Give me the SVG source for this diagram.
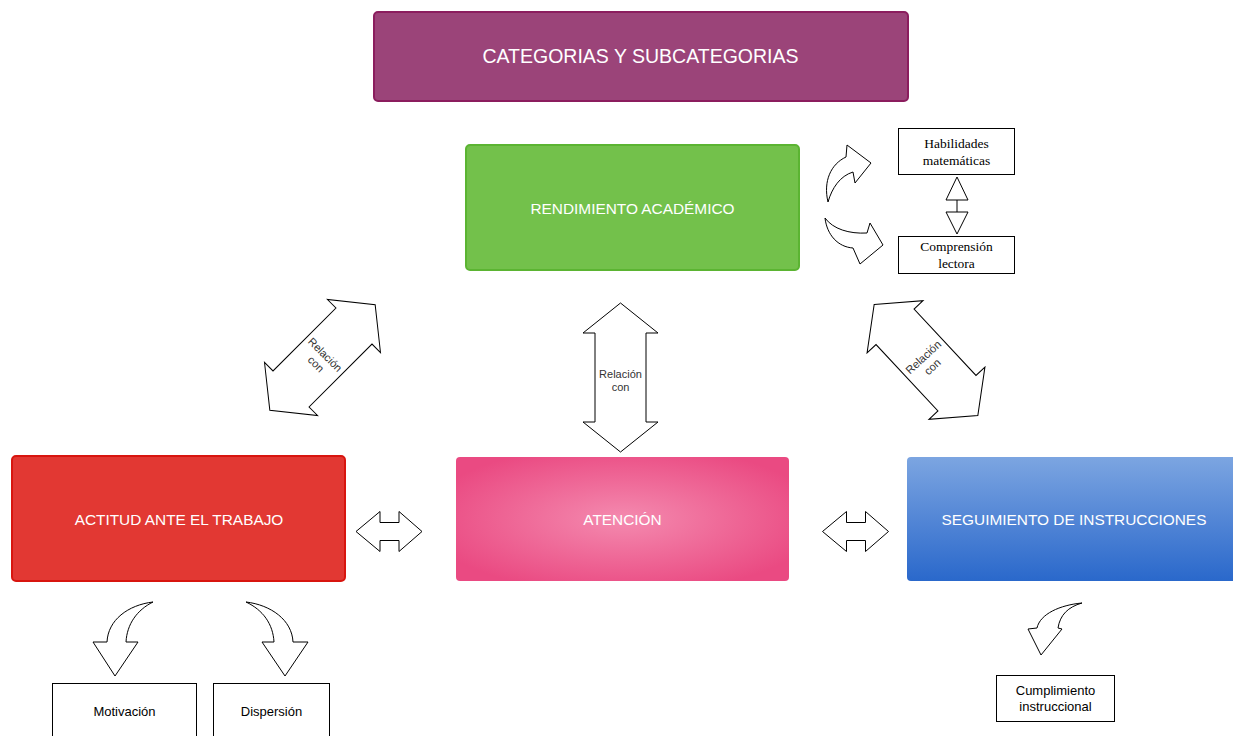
<svg xmlns="http://www.w3.org/2000/svg" width="1233" height="736" viewBox="0 0 1233 736">
<defs>
<radialGradient id="pinkG" cx="0.5" cy="0.5" r="0.6">
<stop offset="0" stop-color="#f48aaf"/>
<stop offset="1" stop-color="#ea4a82"/>
</radialGradient>
<linearGradient id="blueG" x1="0" y1="0" x2="0" y2="1">
<stop offset="0" stop-color="#7ca5e1"/>
<stop offset="1" stop-color="#2a68cb"/>
</linearGradient>
<path id="dbl" d="M0,-74.5 L37.5,-44.5 L25.5,-44.5 L25.5,44.5 L37.5,44.5 L0,74.5 L-37.5,44.5 L-25.5,44.5 L-25.5,-44.5 L-37.5,-44.5 Z"/>
<path id="hdbl" d="M-33,0 L-9,-20 L-9,-9 L10,-9 L10,-20 L33,0 L10,20 L10,9 L-9,9 L-9,20 Z"/>
</defs>
<style>
.big{font-family:"Liberation Sans",Arial,sans-serif;fill:#ffffff;text-anchor:middle}
.sub{font-family:"Liberation Sans",Arial,sans-serif;font-size:13px;fill:#000;text-anchor:middle}
.ser{font-family:"Liberation Serif","Times New Roman",serif;font-size:13.5px;fill:#000;text-anchor:middle}
.lbl{font-family:"Liberation Sans",Arial,sans-serif;font-size:11px;fill:#333;text-anchor:middle}
.box{fill:#fff;stroke:#000;stroke-width:1}
.arr{fill:#fff;stroke:#000;stroke-width:1;stroke-linejoin:miter}
</style>

<g id="title">
<rect x="374" y="12" width="534" height="89" rx="4" fill="#9b4479" stroke="#8b1d5e" stroke-width="2"/>
<text class="big" x="640.5" y="63" font-size="19.5">CATEGORIAS Y SUBCATEGORIAS</text>
</g>

<g id="rendimiento">
<rect x="466" y="145" width="333" height="125" rx="4" fill="#73c14b" stroke="#5bb432" stroke-width="2"/>
<text class="big" x="632.5" y="213.5" font-size="15.4">RENDIMIENTO ACADÉMICO</text>
</g>

<g id="actitud">
<rect x="12" y="456" width="333" height="125" rx="4" fill="#e23833" stroke="#d8150f" stroke-width="2"/>
<text class="big" x="179" y="524.5" font-size="15.4">ACTITUD ANTE EL TRABAJO</text>
</g>

<g id="atencion">
<rect x="456" y="457" width="333" height="124" rx="4" fill="url(#pinkG)"/>
<text class="big" x="622.5" y="524.5" font-size="15.4">ATENCIÓN</text>
</g>

<g id="seguimiento">
<rect x="907" y="457" width="340" height="124" rx="4" fill="url(#blueG)"/>
<text class="big" x="1074" y="524.5" font-size="15.4">SEGUIMIENTO DE INSTRUCCIONES</text>
</g>

<g id="habilidades">
<rect class="box" x="898.5" y="128.5" width="116" height="46"/>
<text class="ser" x="956.5" y="148">Habilidades</text>
<text class="ser" x="956.5" y="165">matemáticas</text>
</g>

<g id="comprension">
<rect class="box" x="898.5" y="236.5" width="116" height="37"/>
<text class="ser" x="956.5" y="251">Comprensión</text>
<text class="ser" x="956.5" y="268">lectora</text>
</g>

<g id="motivacion">
<rect class="box" x="52.5" y="683.5" width="144" height="60"/>
<text class="sub" x="124.5" y="716">Motivación</text>
</g>

<g id="dispersion">
<rect class="box" x="213.5" y="683.5" width="116" height="60"/>
<text class="sub" x="271.5" y="716">Dispersión</text>
</g>

<g id="cumplimiento">
<rect class="box" x="996.5" y="675.5" width="118" height="46"/>
<text class="sub" x="1055.5" y="695">Cumplimiento</text>
<text class="sub" x="1055.5" y="711">instruccional</text>
</g>

<g id="connectors">
<g transform="translate(620.5,377.5)">
<use href="#dbl" class="arr"/>
<text class="lbl" x="0" y="0">Relación</text>
<text class="lbl" x="0" y="13">con</text>
</g>
<g transform="translate(322.5,357.5) rotate(45)">
<use href="#dbl" class="arr"/>
<text class="lbl" x="0" y="0">Relación</text>
<text class="lbl" x="0" y="13">con</text>
</g>
<g transform="translate(926,360) rotate(-43) scale(1.02)">
<use href="#dbl" class="arr" stroke-width="0.98"/>
<text class="lbl" x="0" y="0">Relación</text>
<text class="lbl" x="0" y="13">con</text>
</g>
<use href="#hdbl" class="arr" transform="translate(389,531.5)"/>
<use href="#hdbl" class="arr" transform="translate(855.5,531.5)"/>
<path class="arr" d="M828,202 C823,181 831,164 846,157 L847,145 L871,163 L855,183 L853,172 C840,176 832,188 828,202 Z"/>
<path class="arr" d="M825,218 C827,235 838,247 853,248 L860,264 L883,245 L870,223 L867,233 C849,234 833,229 825,218 Z"/>
<polygon class="arr" points="957,177 946,200 968,200"/>
<line x1="957" y1="200" x2="957" y2="212" stroke="#000" stroke-width="1"/>
<polygon class="arr" points="946,212 968,212 957,234"/>
<path class="arr" d="M153,602 C128,605 108,620 107,642 L93,642 L115,676 L138,642 L126,642 C127,624 137,610 153,602 Z"/>
<path class="arr" d="M246,602 C271,605 292,620 293,642 L308,642 L285,676 L262,642 L274,642 C273,624 263,610 246,602 Z"/>
<path class="arr" d="M1082,603 C1060,605 1040,614 1037,628 L1028,629 L1041,655 L1062,629 L1058,628 C1060,615 1068,607 1082,603 Z"/>
</g>
</svg>
